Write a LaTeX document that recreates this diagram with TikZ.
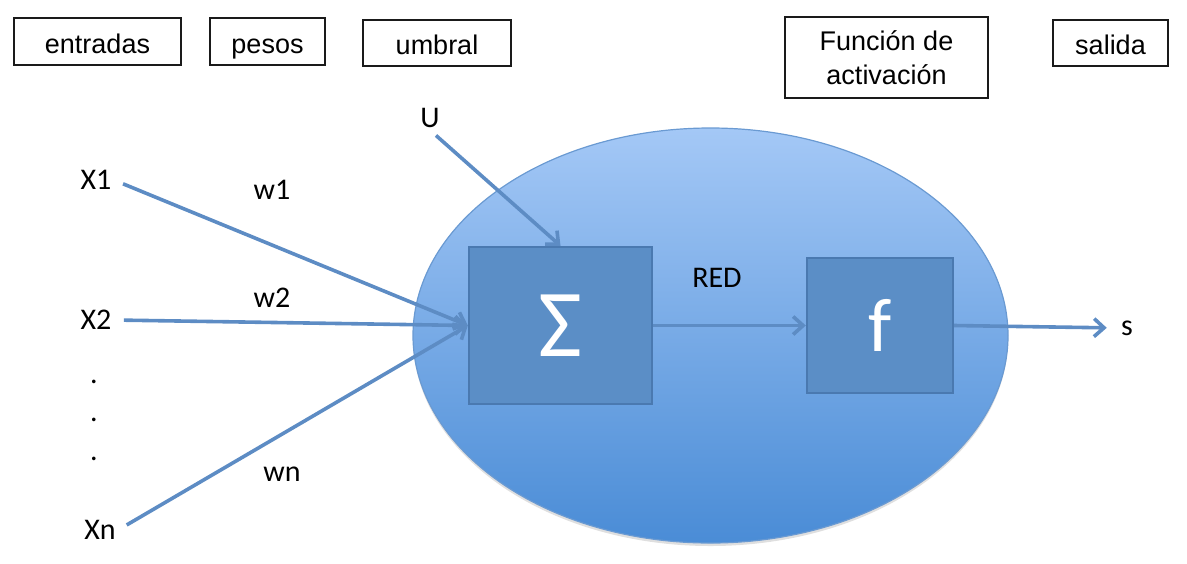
\documentclass[tikz,border=0pt]{standalone}
\usepackage{fontspec}
\setmainfont{Liberation Sans}
\newfontfamily\labelfont{Carlito}
\usetikzlibrary{arrows.meta, positioning, shapes.geometric, shadows}
\definecolor{ink}{HTML}{1A1A1A}
\definecolor{celltop}{HTML}{A4C8F6}
\definecolor{cellbottom}{HTML}{4A8CD6}
\definecolor{cellline}{HTML}{6A9AD2}
\definecolor{unitbg}{HTML}{5B8EC6}
\definecolor{unitline}{HTML}{4A79B0}
\definecolor{wire}{HTML}{5D8CC4}
\tikzset{
  tag/.style={
    draw=ink,
    line width=0.7pt,
    align=center,
    inner sep=0pt,
    font=\fontsize{13.5}{17}\selectfont
  },
  oneline/.style={tag, text height=13pt, text depth=1.5pt},
  sym/.style={inner sep=1pt, font=\labelfont\fontsize{15}{17}\selectfont},
  cell/.style={
    ellipse,
    draw=cellline,
    line width=0.6pt,
    top color=celltop,
    bottom color=cellbottom,
    minimum width=297.5pt,
    minimum height=207.5pt,
    drop shadow={opacity=0.25, shadow xshift=0pt, shadow yshift=-1.5pt}
  },
  unit/.style={
    draw=unitline,
    fill=unitbg,
    line width=1.2pt,
    inner sep=0pt,
    text=white
  },
  arrow/.style={-{Straight Barb[length=5pt, width=9pt]}, line width=1.8pt, draw=wire}
}

\begin{document}
\begin{tikzpicture}[x=0.5pt, y=-0.5pt]
\useasboundingbox (0,0) rectangle (1187,563);

\node[oneline, minimum width=83.5pt, minimum height=23.5pt] (entradas) at (97.5,41.5) {entradas};
\node[oneline, minimum width=57.5pt, minimum height=23.5pt] (pesos) at (267.5,41.5) {pesos};
\node[oneline, minimum width=74pt, minimum height=23pt] (umbral) at (437,43) {umbral};
\node[tag, minimum width=101.5pt, minimum height=40.5pt] (funcion) at (886.5,57.5) {Función de\\activación};
\node[oneline, minimum width=57.5pt, minimum height=23pt] (salida) at (1110.5,43) {salida};

\node[cell] (neuron) at (710.5,335.5) {};

\node[unit, minimum width=91.5pt, minimum height=78.5pt,
      font=\labelfont\fontsize{48}{48}\selectfont] (sum) at (560.5,325.5) {Σ};
\node[unit, minimum width=73pt, minimum height=67.5pt,
      font=\labelfont\fontsize{38}{38}\selectfont] (act) at (880,325.5) {f};

\node[sym] (x1) at (96,180) {X1};
\node[sym] (x2) at (96,320) {X2};
\node[sym] (dot1) at (94,382) {.};
\node[sym] (dot2) at (94,420) {.};
\node[sym] (dot3) at (94,459) {.};
\node[sym] (xn) at (100,530) {Xn};
\node[sym] (w1) at (272,190) {w1};
\node[sym] (w2) at (272,298) {w2};
\node[sym] (wn) at (282,474) {wn};
\node[sym] (u) at (430,118) {U};
\node[sym] (red) at (717,278) {RED};
\node[sym] (s) at (1127,328) {s};

\draw[arrow, shorten <=5pt] (x1.east) -- (sum.west);
\draw[arrow, shorten <=5pt] (x2.east) -- (sum.west);
\draw[arrow, shorten <=5pt] (xn.east) -- (sum.west);
\draw[arrow, shorten <=4pt] (u.south) -- (sum.north);
\draw[arrow] (sum.east) -- (act.west);
\draw[arrow, shorten >=6pt] (act.east) -- (s.west);

\end{tikzpicture}
\end{document}
